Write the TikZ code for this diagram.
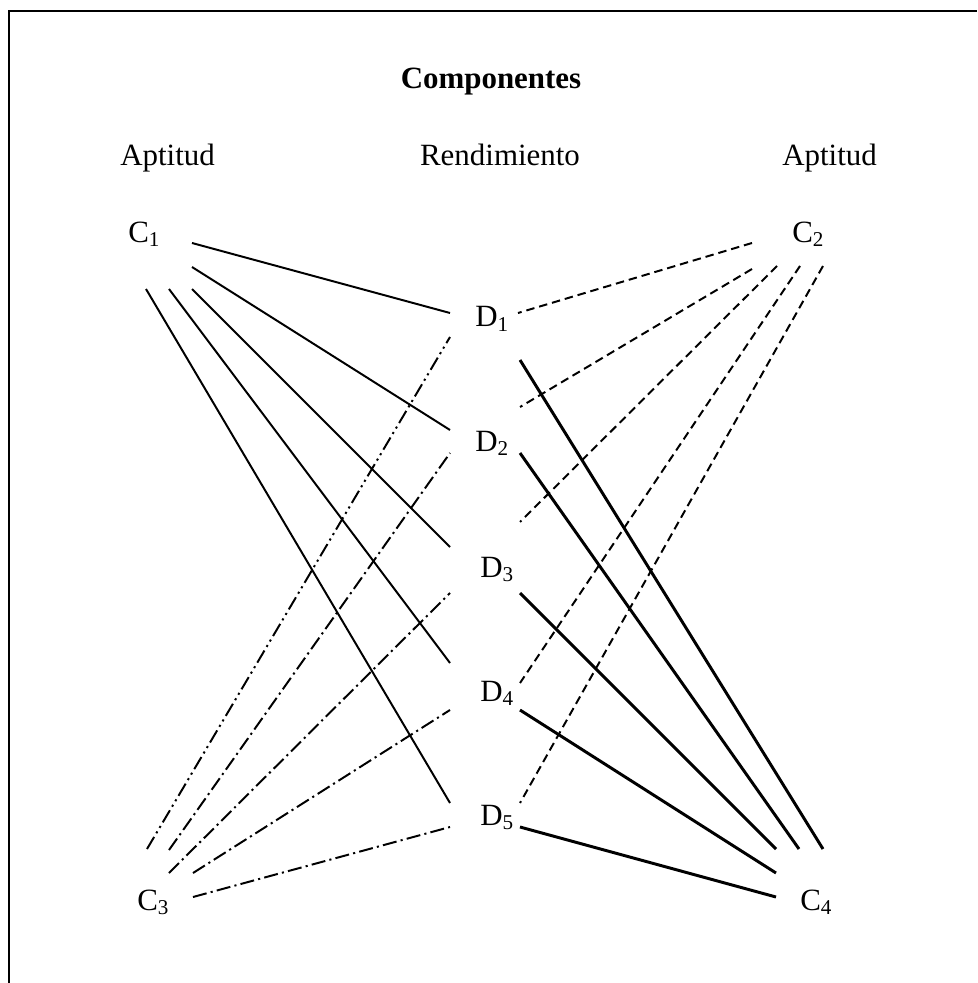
\documentclass[tikz,border=0pt]{standalone}
\usepackage{fontspec}
\setmainfont{Liberation Serif}
\usetikzlibrary{positioning}

\newcommand{\sbs}[1]{\raisebox{-3pt}{\fontsize{15}{15}\selectfont #1}}

\begin{document}
\begin{tikzpicture}[x=0.025cm, y=-0.025cm,
  lbl/.style={inner sep=0pt, font=\fontsize{22}{26}\selectfont},
  aptline/.style={line width=1.4pt},
  rendline/.style={line width=2.1pt},
  dashline/.style={line width=1.4pt, dash pattern=on 6pt off 3.5pt},
  dotline/.style={line width=1.4pt, dash pattern=on 10pt off 3pt on 1.5pt off 3pt},
  dotdotline/.style={line width=1.4pt, dash pattern=on 10pt off 3pt on 1.5pt off 3pt on 1.5pt off 3pt}]
  \useasboundingbox (0,0) rectangle (977,983);
  \draw[line width=2.1pt] (9,983) -- (9,11) -- (977,11);

  % Headings
  \node[lbl, anchor=base, font=\fontsize{22}{26}\selectfont\bfseries] (title) at (491,89) {Componentes};
  \node[lbl, anchor=base west] (aptl) at (120,165.5) {Aptitud};
  \node[lbl, anchor=base] (rend) at (500,165.5) {Rendimiento};
  \node[lbl, anchor=base west] (aptr) at (782,165.5) {Aptitud};

  % Components C and D
  \node[lbl, anchor=base west] (c1) at (128,242.5) {C\sbs{1}};
  \node[lbl, anchor=base west] (c2) at (792,242.5) {C\sbs{2}};
  \node[lbl, anchor=base west] (c3) at (137,910) {C\sbs{3}};
  \node[lbl, anchor=base west] (c4) at (800,910) {C\sbs{4}};
  \node[lbl, anchor=base west] (d1) at (475,327) {D\sbs{1}};
  \node[lbl, anchor=base west] (d2) at (475,451) {D\sbs{2}};
  \node[lbl, anchor=base west] (d3) at (480,577) {D\sbs{3}};
  \node[lbl, anchor=base west] (d4) at (480,701) {D\sbs{4}};
  \node[lbl, anchor=base west] (d5) at (480,825) {D\sbs{5}};

  % line ends
  \foreach \n/\x/\y in {c1d1/192/243, c1d2/192/267, c1d3/192/289, c1d4/169/289, c1d5/146/289,
                        d1c1/450/313, d2c1/450/430, d3c1/450/547, d4c1/450/663, d5c1/450/803,
                        c2d1/752/243, c2d2/752/269, c2d3/777/266, c2d4/800/266, c2d5/823/266,
                        d1c2/518/313, d2c2/520/407, d3c2/520/522, d4c2/520/683, d5c2/520/803,
                        c3d1/147/849, c3d2/169/850, c3d3/169/873, c3d4/193/873, c3d5/193/897,
                        d1c3/450/337, d2c3/450/453, d3c3/450/593, d4c3/450/710, d5c3/450/827,
                        c4d1/823/849, c4d2/799/849, c4d3/776/849, c4d4/776/873, c4d5/776/897,
                        d1c4/520/360, d2c4/520/453, d3c4/520/593, d4c4/520/710, d5c4/520/827}
    \coordinate (\n) at (\x,\y);

  % C1 -- D (solid), C2 -- D (dashed), C3 -- D (dash dot), C4 -- D (thick)
  \foreach \i in {1,...,5} {
    \draw[aptline] (c1d\i) -- (d\i c1);
    \draw[dashline] (c2d\i) -- (d\i c2);
    \draw[rendline] (c4d\i) -- (d\i c4);
  }
  \draw[dotdotline] (c3d1) -- (d1c3);
  \foreach \i in {2,...,5}
    \draw[dotline] (c3d\i) -- (d\i c3);
\end{tikzpicture}
\end{document}
